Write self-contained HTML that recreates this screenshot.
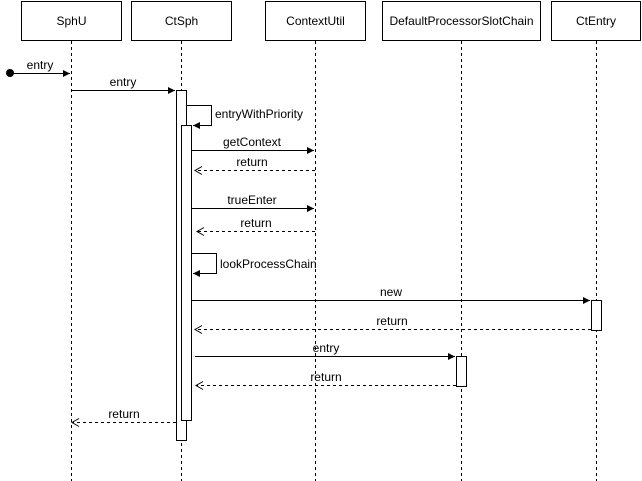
<!DOCTYPE html>
<html><head><style>body{margin:0;background:#fff}svg{display:block}text{font-family:"Liberation Sans",sans-serif;font-size:12px;fill:#000}</style></head><body>
<svg width="642" height="481" viewBox="0 0 642 481" xmlns="http://www.w3.org/2000/svg">
<defs>
<marker id="f" markerWidth="8" markerHeight="8" refX="7" refY="4" orient="auto" markerUnits="userSpaceOnUse"><path d="M0,0.5 L7,4 L0,7.5 Z" fill="#000"/></marker>
<marker id="o" markerWidth="10" markerHeight="10" refX="8" refY="5" orient="auto" markerUnits="userSpaceOnUse"><path d="M1,1 L8,5 L1,9" fill="none" stroke="#000"/></marker>
</defs>
<g fill="#fff" stroke="#000">
<rect x="21.5" y="1.5" width="100" height="39"/>
<rect x="131.5" y="1.5" width="100" height="39"/>
<rect x="265.5" y="1.5" width="100" height="39"/>
<rect x="382.5" y="1.5" width="158" height="39"/>
<rect x="551.5" y="1.5" width="89" height="39"/>
</g>
<g text-anchor="middle">
<text x="71.5" y="25">SphU</text><text x="181.5" y="25">CtSph</text><text x="315.5" y="25">ContextUtil</text><text x="461.5" y="25">DefaultProcessorSlotChain</text><text x="596" y="25">CtEntry</text>
</g>
<g stroke="#000" stroke-dasharray="3,3">
<line x1="71.5" y1="41" x2="71.5" y2="481"/><line x1="181.5" y1="41" x2="181.5" y2="481"/><line x1="315.5" y1="41" x2="315.5" y2="481"/><line x1="461.5" y1="41" x2="461.5" y2="481"/><line x1="596.5" y1="41" x2="596.5" y2="481"/>
</g>
<g fill="#fff" stroke="#000">
<rect x="176.5" y="90.5" width="10" height="350"/>
<rect x="181.5" y="125.5" width="10" height="295"/>
<rect x="591.5" y="300.5" width="10" height="30"/>
<rect x="456.5" y="356.5" width="10" height="30"/>
</g>
<circle cx="10" cy="73" r="4" fill="#000"/>
<g stroke="#000" fill="none">
<line x1="10" y1="73.5" x2="70" y2="73.5" marker-end="url(#f)"/>
<line x1="72" y1="90.5" x2="175" y2="90.5" marker-end="url(#f)"/>
<polyline points="186,105.5 211.5,105.5 211.5,125.5 193,125.5" marker-end="url(#f)"/>
<line x1="191" y1="150.5" x2="314" y2="150.5" marker-end="url(#f)"/>
<line x1="315" y1="170.5" x2="195" y2="170.5" stroke-dasharray="3,3" marker-end="url(#o)"/>
<line x1="191" y1="208.5" x2="314" y2="208.5" marker-end="url(#f)"/>
<line x1="315" y1="231.5" x2="197" y2="231.5" stroke-dasharray="3,3" marker-end="url(#o)"/>
<polyline points="191,253.5 216.5,253.5 216.5,273.5 193,273.5" marker-end="url(#f)"/>
<line x1="191" y1="300.5" x2="590" y2="300.5" marker-end="url(#f)"/>
<line x1="591" y1="329.5" x2="195" y2="329.5" stroke-dasharray="3,3" marker-end="url(#o)"/>
<line x1="195" y1="356.5" x2="455" y2="356.5" marker-end="url(#f)"/>
<line x1="456" y1="385.5" x2="196" y2="385.5" stroke-dasharray="3,3" marker-end="url(#o)"/>
<line x1="176" y1="422.5" x2="72" y2="422.5" stroke-dasharray="3,3" marker-end="url(#o)"/>
</g>
<text x="40" y="69" text-anchor="middle">entry</text>
<text x="123" y="86" text-anchor="middle">entry</text>
<text x="215" y="118">entryWithPriority</text>
<text x="252" y="146" text-anchor="middle">getContext</text>
<text x="252" y="166" text-anchor="middle">return</text>
<text x="252" y="204" text-anchor="middle">trueEnter</text>
<text x="256" y="227" text-anchor="middle">return</text>
<text x="220" y="268">lookProcessChain</text>
<text x="391" y="296" text-anchor="middle">new</text>
<text x="392" y="325" text-anchor="middle">return</text>
<text x="326" y="352" text-anchor="middle">entry</text>
<text x="326" y="381" text-anchor="middle">return</text>
<text x="124" y="418" text-anchor="middle">return</text>
</svg>
</body></html>
